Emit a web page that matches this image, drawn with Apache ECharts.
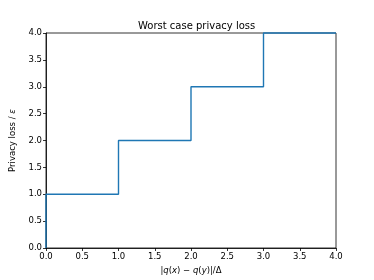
<!DOCTYPE html>
<html><head><meta charset="utf-8">
<script src="https://cdn.jsdelivr.net/npm/echarts@6/dist/echarts.min.js"></script>
<style>html,body{margin:0;padding:0;background:#fff}#c{width:374px;height:280px}</style>
</head><body><div id="c"></div>
<script>
const xValues = [0, 1, 2, 3, 4];
const yValues = [0, 1, 2, 3, 4];
const xTicks = [0, 0.5, 1, 1.5, 2, 2.5, 3, 3.5, 4];
const yTicks = [0, 0.5, 1, 1.5, 2, 2.5, 3, 3.5, 4];

const F = 'DejaVu Sans';
const chart = echarts.init(document.getElementById('c'), null, {renderer: 'canvas'});
const axisCommon = {
  min: 0, max: 4, interval: 0.5,
  axisLine: {show: true, onZero: false, lineStyle: {color: '#000', width: 0.8}},
  axisTick: {show: true, length: 3, lineStyle: {color: '#000', width: 0.8}},
  splitLine: {show: false},
  axisLabel: {color: '#000', fontFamily: F, fontSize: 8.5, formatter: v => v.toFixed(1)}
};
chart.setOption({
  animation: false,
  backgroundColor: '#fff',
  title: {
    text: 'Worst case privacy loss', left: 133, top: 16,
    textStyle: {fontFamily: F, fontSize: 10, fontWeight: 'normal', color: '#000'}
  },
  grid: {left: 46, right: 38, top: 33, bottom: 31, show: true, borderColor: '#000', borderWidth: 0.8, backgroundColor: 'transparent'},
  xAxis: Object.assign({}, axisCommon, {
    type: 'value',
    axisLabel: Object.assign({}, axisCommon.axisLabel, {margin: 4}),
    name: '{t||}{i|q}{t|(}{i|x}{t|) − }{i|q}{t|(}{i|y}{t|)|/Δ}',
    nameLocation: 'middle', nameGap: 18,
    nameTextStyle: {rich: {
      t: {fontFamily: F, fontSize: 8.5, color: '#000'},
      i: {fontFamily: F, fontSize: 8.5, fontStyle: 'italic', color: '#000'}
    }}
  }),
  yAxis: Object.assign({}, axisCommon, {
    type: 'value',
    axisLabel: Object.assign({}, axisCommon.axisLabel, {margin: 4}),
    name: '{t|Privacy loss / }{i|ε}',
    nameLocation: 'middle', nameGap: 18, nameRotate: 90,
    nameTextStyle: {rich: {
      t: {fontFamily: F, fontSize: 8.5, color: '#000'},
      i: {fontFamily: F, fontSize: 8.5, fontStyle: 'italic', color: '#000'}
    }}
  }),
  series: [{
    type: 'line', step: 'start', showSymbol: false, symbol: 'none',
    data: xValues.map((x, i) => [x, yValues[i]]),
    lineStyle: {color: '#1f77b4', width: 1.4},
    clip: false
  }]
});
</script></body></html>
